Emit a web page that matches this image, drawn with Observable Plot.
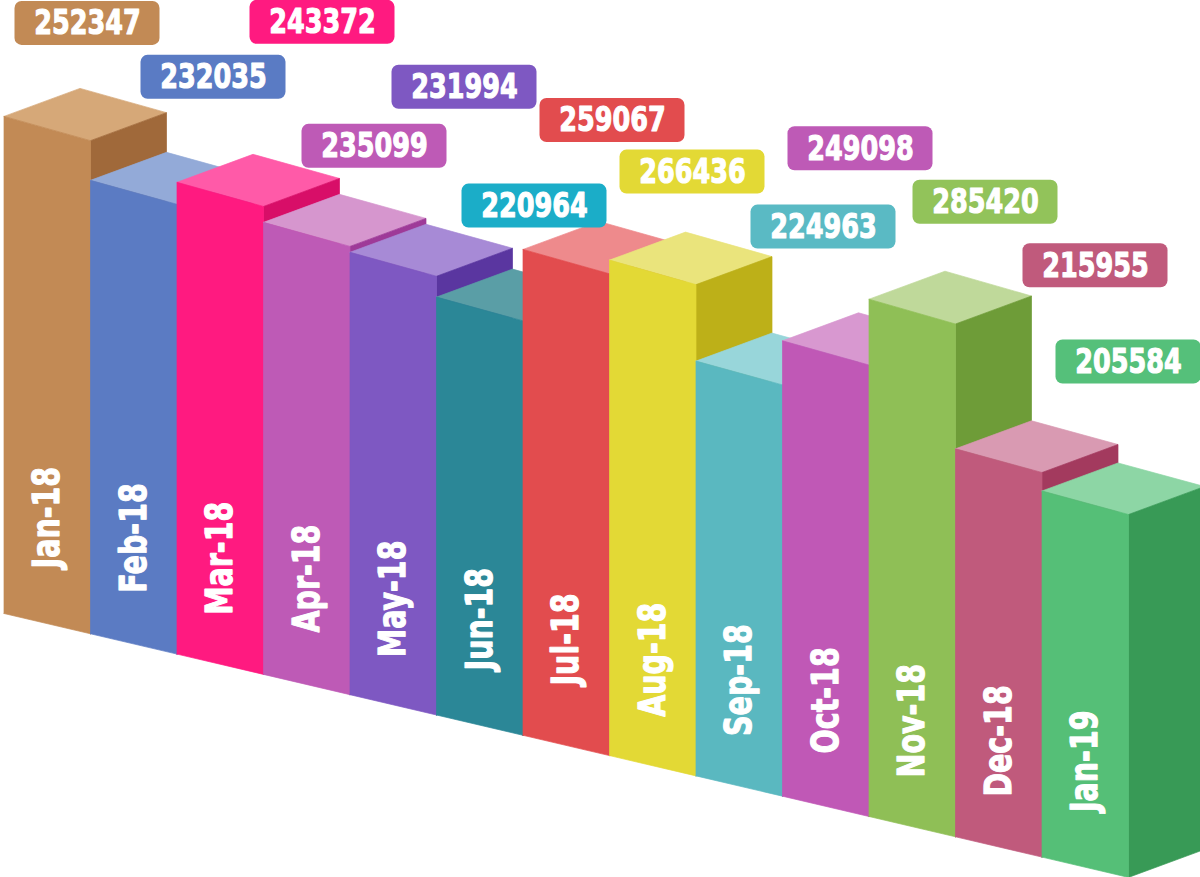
<!DOCTYPE html>
<html>
<head>
<meta charset="utf-8">
<script src="https://cdn.jsdelivr.net/npm/d3@7"></script>
<script src="https://cdn.jsdelivr.net/npm/@observablehq/plot@0.6"></script>
<style>
  html, body { margin: 0; padding: 0; background: #ffffff; }
  #chart svg { display: block; }
</style>
</head>
<body>
<div id="chart"></div>
<script>
// ---------- data ----------
const months = ["Jan-18", "Feb-18", "Mar-18", "Apr-18", "May-18", "Jun-18", "Jul-18",
                "Aug-18", "Sep-18", "Oct-18", "Nov-18", "Dec-18", "Jan-19"];
const values = [252347, 232035, 243372, 235099, 231994, 220964, 259067,
                266436, 224963, 249098, 285420, 215955, 205584];

// ---------- styles ----------
const frontColors = ["#C28A55", "#5B7BC3", "#FF1A80", "#BE5AB6", "#7E58C2", "#2B8797", "#E24C4E",
                     "#E3D935", "#5AB8C0", "#C058B6", "#8FBF56", "#C05A7C", "#55BF77"];
const sideColors  = ["#A0693A", "#4967AD", "#D80E68", "#9E3A98", "#5A36A0", "#1F6E7C", "#C83238",
                     "#BDB018", "#3E9AA4", "#9C3A98", "#6E9C38", "#A33A5E", "#389A56"];
const topColors   = ["#D6A878", "#93AAD8", "#FF5AA8", "#D696CE", "#A78AD6", "#5A9EA6", "#EE8A8C",
                     "#EAE47C", "#98D6DA", "#D898D0", "#BFD99A", "#D99AB2", "#8DD6A5"];
const badgeColors = ["#C28A55", "#5A7BC4", "#FF1A80", "#BE5AB6", "#7E58C2", "#1BADC8", "#E24C4E",
                     "#E3D935", "#5ABAC4", "#BE5AB6", "#92C35A", "#C05A7C", "#55C07A"];
// badge placement: offset (px) of each badge centre from its bar's top-front-left corner
const badgeOffset = [[83.5, -93], [123, -103], [145.5, -160], [111, -76], [114.5, -165], [98, -91], [89.5, -129],
                     [83, -88], [127.5, -134], [78, -192], [116.5, -97], [140, -183], [86.5, -129]];

// ---------- projection (oblique, with a slight perspective shrink) ----------
const X0 = 3.5;              // px of the first bar's left edge
const PX_PER_BAR = 86.5;     // horizontal px per bar
const PX_PER_UNIT = 0.00197; // vertical px per value unit at the first bar
const BASE_DROP = 20.3;      // px the baseline falls per bar
const SHRINK = 0.008;        // perspective shrink per bar
const DEPTH_X = 76, DEPTH_Y = 28;
const BADGE_W = 145, BADGE_H = 44;
const LABEL_LIFT = 106;
const CONDENSE = 0.75;

function project(u, v, d) {
  return {
    x: u + d * DEPTH_X / PX_PER_BAR,
    y: v * (1 - SHRINK * u) - (u * BASE_DROP - d * DEPTH_Y) / PX_PER_UNIT
  };
}

// faces, drawn bar after bar so each bar hides its neighbour's side
const faces = [];
values.forEach((v, i) => {
  const quads = [
    ["top", topColors[i], [[i, v, 0], [i + 1, v, 0], [i + 1, v, 1], [i, v, 1]]],
    ["side", sideColors[i], [[i + 1, 0, 0], [i + 1, 0, 1], [i + 1, v, 1], [i + 1, v, 0]]],
    ["front", frontColors[i], [[i, 0, 0], [i + 1, 0, 0], [i + 1, v, 0], [i, v, 0]]]
  ];
  for (const [kind, color, pts] of quads) {
    const id = i + "-" + kind;
    for (const p of [...pts, pts[0]]) {
      const q = project(...p);
      faces.push({id, color, x: q.x, y: q.y});
    }
  }
});

const badges = values.map((v, i) => {
  const c = project(i, v, 0);
  const cx = c.x + badgeOffset[i][0] / PX_PER_BAR;
  const cy = c.y - badgeOffset[i][1] / PX_PER_UNIT;
  return {
    value: v, color: badgeColors[i], cx, cy,
    x1: cx - BADGE_W / 2 / PX_PER_BAR, x2: cx + BADGE_W / 2 / PX_PER_BAR,
    y1: cy - BADGE_H / 2 / PX_PER_UNIT, y2: cy + BADGE_H / 2 / PX_PER_UNIT
  };
});

const monthLabels = months.map((m, i) => {
  const b = project(i + 0.5, 0, 0);
  return {month: m, x: b.x, y: b.y + LABEL_LIFT / PX_PER_UNIT};
});

const FONT = "'DejaVu Sans', 'Liberation Sans', sans-serif";

const chart = Plot.plot({
  width: 1200,
  height: 877,
  margin: 0,
  style: {background: "#ffffff", fontFamily: FONT},
  x: {type: "linear", domain: [0, 1], range: [X0, X0 + PX_PER_BAR], axis: null},
  y: {type: "linear", domain: [0, 100000], range: [613, 613 - 100000 * PX_PER_UNIT], axis: null},
  color: {type: "identity"},
  marks: [
    Plot.line(faces, {x: "x", y: "y", z: "id", fill: "color", stroke: "color", strokeWidth: 0.7, curve: "linear"}),
    Plot.text(monthLabels, {
      x: "x", y: "y", text: "month", rotate: -90, fill: "#ffffff", stroke: "#ffffff", strokeWidth: 1.2,
      fontSize: 38, fontWeight: "bold", textAnchor: "middle", lineAnchor: "middle", fontFamily: FONT
    }),
    Plot.rect(badges, {x1: "x1", x2: "x2", y1: "y1", y2: "y2", fill: "color", rx: 7}),
    Plot.text(badges, {
      x: "cx", y: "cy", text: d => String(d.value), fill: "#ffffff", stroke: "#ffffff", strokeWidth: 1.2,
      fontSize: 34, fontWeight: "bold", textAnchor: "middle", lineAnchor: "middle", fontFamily: FONT
    })
  ]
});

// condense the bold lettering horizontally (along each text's own baseline)
chart.querySelectorAll("text").forEach(t => {
  const tr = t.getAttribute("transform");
  if (tr) {
    t.setAttribute("transform", tr + ` scale(${CONDENSE},1)`);
  } else {
    const x = +(t.getAttribute("x") || 0), y = +(t.getAttribute("y") || 0);
    t.setAttribute("x", 0); t.setAttribute("y", 0);
    t.setAttribute("transform", `translate(${x},${y}) scale(${CONDENSE},1)`);
  }
});
document.getElementById("chart").appendChild(chart);
</script>
</body>
</html>
